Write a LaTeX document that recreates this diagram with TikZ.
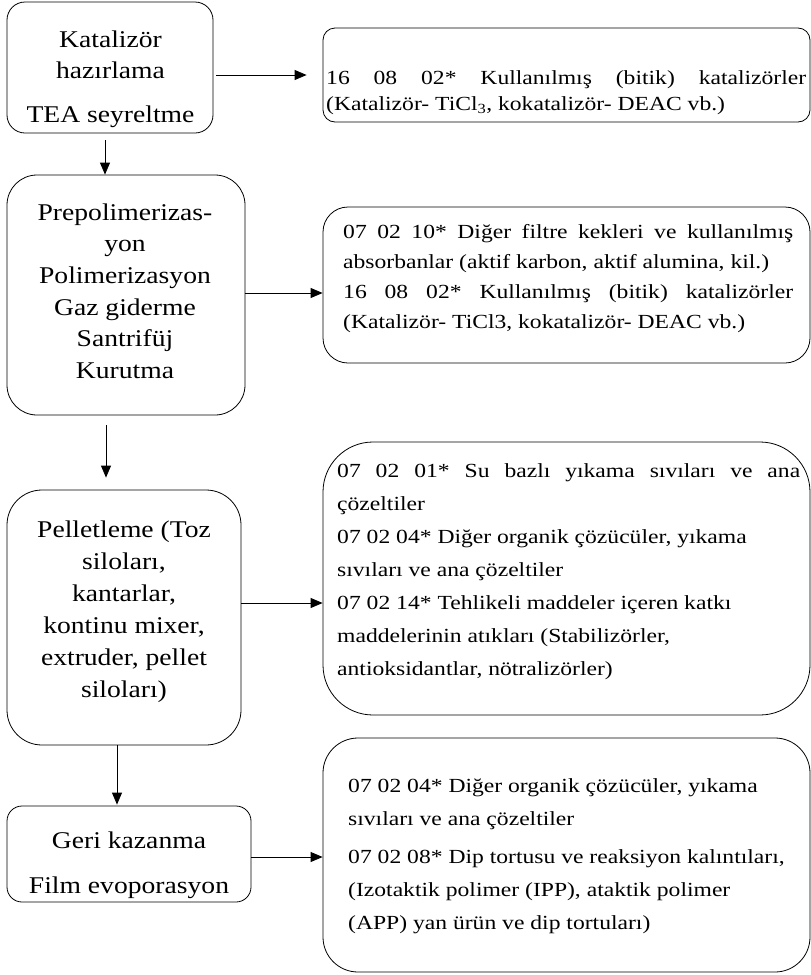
\documentclass[tikz,border=0pt]{standalone}
\usepackage{fontspec}
\setmainfont{Liberation Serif}
\newfontfamily\boxfont{Liberation Serif}[FakeStretch=1.15]
\newfontfamily\listfont{Liberation Serif}[FakeStretch=1.18]
\usetikzlibrary{arrows.meta,calc}
\begin{document}
\begin{tikzpicture}[x=1pt,y=-1pt,
  stage/.style={draw,line width=0.8pt,inner sep=0pt},
  stagetext/.style={anchor=north,inner sep=0pt,align=center},
  wastetext/.style={anchor=north west,inner sep=0pt,align=left},
  flow/.style={line width=0.8pt,-{Triangle[length=12pt,width=10pt]}}]
\useasboundingbox (0,0) rectangle (811,975);

% process stages (left column)
\node[stage,rounded corners=18pt,minimum width=206pt,minimum height=131pt] (L1) at (110,67.5) {};
\node[stage,rounded corners=30pt,minimum width=238pt,minimum height=240pt] (L2) at (126,295) {};
\node[stage,rounded corners=35pt,minimum width=234pt,minimum height=255pt] (L3) at (124,617.5) {};
\node[stage,rounded corners=15pt,minimum width=244pt,minimum height=96pt] (L4) at (129,854) {};

\node[stagetext,font=\boxfont\fontsize{24}{31}\selectfont] (L1t) at (110.5,25.3)
  {\strut Katalizör\\hazırlama\\[13pt]TEA seyreltme};
\node[stagetext,font=\boxfont\fontsize{24}{31.6}\selectfont] (L2t) at (125,197.9)
  {\strut Prepolimerizas-\\yon\\Polimerizasyon\\Gaz giderme\\Santrifüj\\Kurutma};
\node[stagetext,font=\boxfont\fontsize{24}{32}\selectfont] (L3t) at (124,514.6)
  {\strut Pelletleme (Toz\\siloları,\\kantarlar,\\kontinu mixer,\\extruder, pellet\\siloları)};
\node[stagetext,font=\boxfont\fontsize{24}{31}\selectfont] (L4t) at (129,826.3)
  {\strut Geri kazanma\\[14pt]Film evoporasyon};

% waste codes (right column)
\node[stage,rounded corners=12pt,minimum width=487pt,minimum height=94pt] (R1) at (566.5,75) {};
\node[stage,rounded corners=25pt,minimum width=487pt,minimum height=156pt] (R2) at (566.5,285) {};
\node[stage,rounded corners=50pt,minimum width=487pt,minimum height=273pt] (R3) at (566.5,578.5) {};
\node[stage,rounded corners=35pt,minimum width=487pt,minimum height=234pt] (R4) at (566.5,855) {};

\node[wastetext,font=\listfont\fontsize{20}{26}\selectfont] (R1t) at (326,65.8)
  {\strut\makebox[480pt][s]{16 08 02* Kullanılmış (bitik) katalizörler}\\
   (Katalizör- TiCl\textsubscript{3}, kokatalizör- DEAC vb.)};
\node[wastetext,font=\listfont\fontsize{20}{30}\selectfont] (R2t) at (343,217)
  {\strut\makebox[450pt][s]{07 02 10* Diğer filtre kekleri ve kullanılmış}\\
   absorbanlar (aktif karbon, aktif alumina, kil.)\\
   \makebox[450pt][s]{16 08 02* Kullanılmış (bitik) katalizörler}\\
   (Katalizör- TiCl3, kokatalizör- DEAC vb.)};
\node[wastetext,font=\listfont\fontsize{20}{33}\selectfont] (R3t) at (337,453.9)
  {\strut\makebox[463pt][s]{07 02 01* Su bazlı yıkama sıvıları ve ana}\\
   çözeltiler\\
   07 02 04* Diğer organik çözücüler, yıkama\\
   sıvıları ve ana çözeltiler\\
   07 02 14* Tehlikeli maddeler içeren katkı\\
   maddelerinin atıkları (Stabilizörler,\\
   antioksidantlar, nötralizörler)};
\node[wastetext,font=\listfont\fontsize{20}{33}\selectfont] (R4t) at (348,768.9)
  {\strut 07 02 04* Diğer organik çözücüler, yıkama\\
   sıvıları ve ana çözeltiler\\[5pt]
   07 02 08* Dip tortusu ve reaksiyon kalıntıları,\\
   (Izotaktik polimer (IPP), ataktik polimer\\
   (APP) yan ürün ve dip tortuları)};

% process flow
\draw[flow] ($(L1.south)+(-5,7)$) -- ($(L1.south |- L2.north)+(-5,0)$);
\draw[flow] ($(L2.south)+(-20,10)$) -- ($(L2.south |- L3.north)+(-20,-12)$);
\draw[flow] ($(L3.south)+(-7,0)$) -- ($(L3.south |- L4.north)+(-7,-1)$);

% waste outputs
\draw[flow] ($(L1.east |- R1.west)+(3,0)$) -- ($(R1.west)+(-16,0)$);
\draw[flow] ($(L2.east)+(0,-2)$) -- ($(L2.east -| R2.west)+(0,-2)$);
\draw[flow] ($(L3.east)+(0,-14.5)$) -- ($(L3.east -| R3.west)+(0,-14.5)$);
\draw[flow] ($(L4.east)+(0,3)$) -- ($(L4.east -| R4.west)+(0,3)$);
\end{tikzpicture}
\end{document}
